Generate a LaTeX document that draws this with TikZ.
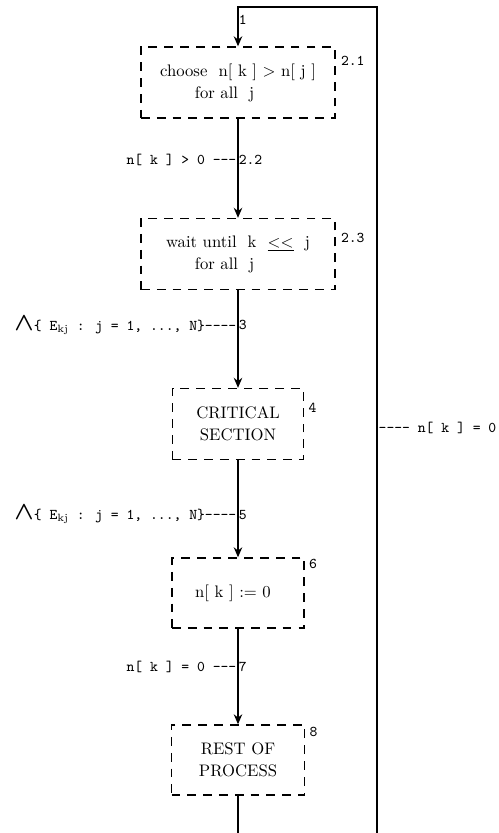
\documentclass[tikz,border=0pt]{standalone}
\usepackage{amsmath,amssymb}
\usepackage{tikz}
\usetikzlibrary{arrows.meta,positioning,calc}

\begin{document}
\begin{tikzpicture}[
  x=0.02cm, y=-0.02cm,
  box/.style={draw, dash pattern=on 5pt off 4pt, line width=0.8pt,
              minimum height=1.42cm, align=center, font=\fontsize{9.5}{12.5}\selectfont},
  arr/.style={-{Stealth[length=2mm,width=1.7mm]}, line width=0.9pt},
  lbl/.style={font=\ttfamily\fontsize{8.5}{10}\selectfont, inner sep=0.5pt},
  num/.style={font=\ttfamily\fontsize{8.5}{10}\selectfont, inner sep=0pt, anchor=west}
]
\useasboundingbox (0,0) rectangle (498,833);

% boxes
\node[box, minimum width=3.88cm] (choose) at (238,82.5) {choose\ \ n[ k ] > n[ j ]\\for all\ \ j\hspace*{1.6em}};
\node[box, minimum width=3.88cm] (wait) at (238,254) {wait until\ \ k\ \ \underline{<{}<}\ \ j\\for all\ \ j\hspace*{1.6em}};
\node[box, minimum width=2.62cm] (crit) at (238,424) {CRITICAL\\SECTION};
\node[box, minimum width=2.64cm, minimum height=1.4cm] (reset) at (238,593) {n[ k ] := 0\hspace*{0.6em}};
\node[box, minimum width=2.66cm, minimum height=1.4cm] (rest) at (238,760) {REST OF\\PROCESS};

% box numbers
\node[num] at ($(choose.north east)+(5,15)$) {2.1};
\node[num] at ($(wait.north east)+(5,20)$) {2.3};
\node[num] at ($(crit.north east)+(4,20)$) {4};
\node[num] at ($(reset.north east)+(4,7)$) {6};
\node[num] at ($(rest.north east)+(4,8)$) {8};

% loop back
\coordinate (loopbot) at (377,833);
\coordinate (looptop) at (377,7);
\coordinate (restbot) at (238,833);

\draw[arr] (choose) -- node[lbl, left, pos=0.42] {n[ k ] > 0 ---} node[num, right, pos=0.42] {2.2} (wait);
\draw[arr] (wait) -- node[lbl, left, pos=0.36] {{\Large$\boldsymbol{\wedge}$}\{ E$_{\mathrm{kj}}$ : j = 1, ..., N\}----} node[num, right, pos=0.36] {3} (crit);
\draw[arr] (crit) -- node[lbl, left, pos=0.56] {{\Large$\boldsymbol{\wedge}$}\{ E$_{\mathrm{kj}}$ : j = 1, ..., N\}----} node[num, right, pos=0.56] {5} (reset);
\draw[arr] (reset) -- node[lbl, left, pos=0.4] {n[ k ] = 0 ---} node[num, right, pos=0.4] {7} (rest);
\draw[line width=0.9pt] (rest) -- (restbot);
\draw[arr] (loopbot) -- node[lbl, right, pos=0.49] {---- n[ k ] = 0} (looptop) -| node[num, right, pos=0.66] {1} (choose);
\end{tikzpicture}
\end{document}
